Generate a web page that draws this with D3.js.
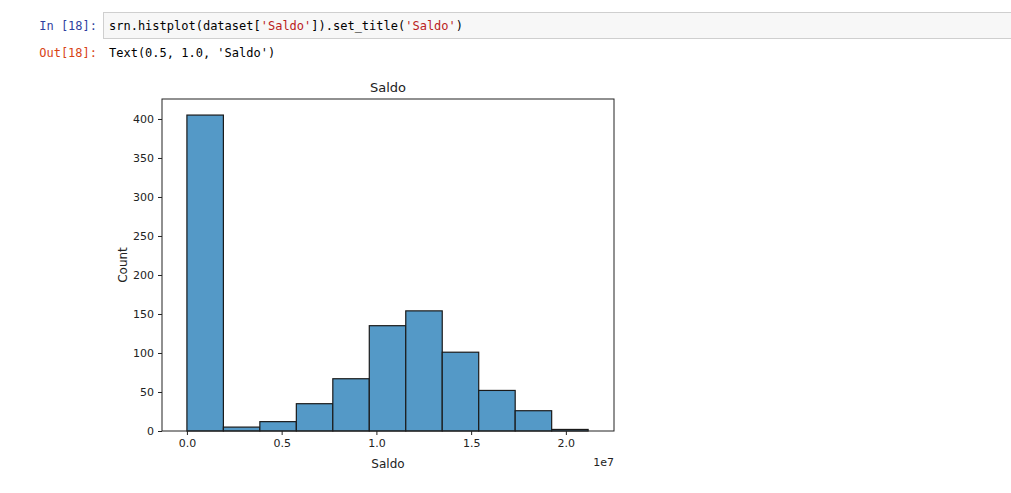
<!DOCTYPE html>
<html><head><meta charset="utf-8">
<script src="https://cdn.jsdelivr.net/npm/d3@7"></script>
<style>body{margin:0;background:#fff}</style>
</head><body><div id="chart"></div>
<script>
// histogram bins (units of 1e7) and counts
const binStart = 0
const binWidth = 0.1925
const counts = [405, 5, 12, 35, 67, 135, 154, 101, 52, 26, 2]
const xTicks = [0.0, 0.5, 1.0, 1.5, 2.0]
const yTicks = [0, 50, 100, 150, 200, 250, 300, 350, 400]

const svg = d3.select('#chart').append('svg').attr('width', 1011).attr('height', 493)
const mono = "'DejaVu Sans Mono', monospace"

// notebook cell
svg.append('rect').attr('x', 103.5).attr('y', 12.5).attr('width', 923).attr('height', 26)
  .attr('fill', '#f7f7f7').attr('stroke', '#cfcfcf')
svg.append('text').attr('x', 97).attr('y', 30).attr('text-anchor', 'end')
  .attr('font-family', mono).attr('font-size', 12).attr('fill', '#303f9f').text('In [18]:')
const code = svg.append('text').attr('x', 109).attr('y', 30)
  .attr('font-family', mono).attr('font-size', 12).attr('fill', '#000')
code.append('tspan').text('srn.histplot(dataset[')
code.append('tspan').attr('fill', '#ba2121').text("'Saldo'")
code.append('tspan').text(']).set_title(')
code.append('tspan').attr('fill', '#ba2121').text("'Saldo'")
code.append('tspan').text(')')
svg.append('text').attr('x', 97).attr('y', 57).attr('text-anchor', 'end')
  .attr('font-family', mono).attr('font-size', 12).attr('fill', '#d84315').text('Out[18]:')
svg.append('text').attr('x', 109).attr('y', 57)
  .attr('font-family', mono).attr('font-size', 12).attr('fill', '#000').text("Text(0.5, 1.0, 'Saldo')")

// plot
const pl = 162, pr = 614, pt = 99, pb = 431
const x = d3.scaleLinear().domain([-0.1315, 2.254]).range([pl, pr])
const y = d3.scaleLinear().domain([0, 425.6]).range([pb, pt])
const font = "'DejaVu Sans', sans-serif"

const g = svg.append('g')
g.selectAll('rect.bar').data(counts).join('rect').attr('class', 'bar')
  .attr('x', (d, i) => x(binStart + i * binWidth))
  .attr('width', x(binWidth) - x(0))
  .attr('y', d => y(d))
  .attr('height', d => y(0) - y(d))
  .attr('fill', '#5499c7').attr('stroke', '#1a1a1a').attr('stroke-width', 1.2)

const xAxis = svg.append('g').attr('transform', `translate(0,${pb})`)
  .call(d3.axisBottom(x).tickValues(xTicks).tickFormat(d3.format('.1f')).tickSizeOuter(0).tickSize(4).tickPadding(4))
const yAxis = svg.append('g').attr('transform', `translate(${pl},0)`)
  .call(d3.axisLeft(y).tickValues(yTicks).tickSizeOuter(0).tickSize(4).tickPadding(4))
for (const a of [xAxis, yAxis]) {
  a.select('.domain').remove()
  a.selectAll('text').attr('font-family', font).attr('font-size', 11).attr('fill', '#222')
  a.selectAll('line').attr('stroke', '#222')
}
svg.append('rect').attr('x', pl).attr('y', pt).attr('width', pr - pl).attr('height', pb - pt)
  .attr('fill', 'none').attr('stroke', '#222').attr('stroke-width', 1)

svg.append('text').attr('x', (pl + pr) / 2).attr('y', 92).attr('text-anchor', 'middle')
  .attr('font-family', font).attr('font-size', 13).attr('fill', '#222').text('Saldo')
svg.append('text').attr('x', (pl + pr) / 2).attr('y', 468).attr('text-anchor', 'middle')
  .attr('font-family', font).attr('font-size', 12).attr('fill', '#222').text('Saldo')
svg.append('text').attr('x', 614).attr('y', 466).attr('text-anchor', 'end')
  .attr('font-family', font).attr('font-size', 11).attr('fill', '#222').text('1e7')
svg.append('text').attr('transform', `translate(127,${(pt + pb) / 2}) rotate(-90)`).attr('text-anchor', 'middle')
  .attr('font-family', font).attr('font-size', 12).attr('fill', '#222').text('Count')
</script></body></html>
